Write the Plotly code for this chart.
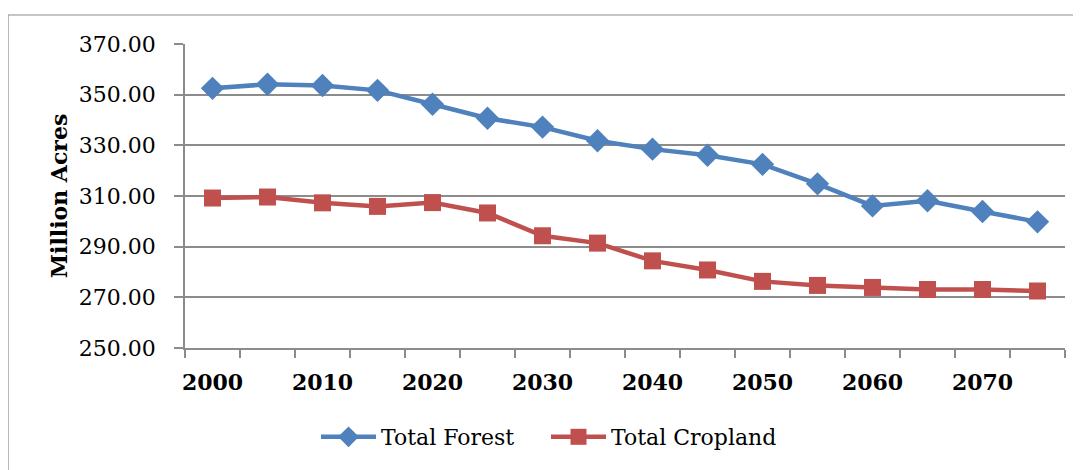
import plotly.graph_objects as go

years = [2000, 2005, 2010, 2015, 2020, 2025, 2030, 2035, 2040, 2045, 2050, 2055, 2060, 2065, 2070, 2075]
total_forest = [352.5, 354.1, 353.6, 351.7, 346.2, 340.7, 337.2, 331.8, 328.5, 326.1, 322.5, 314.8, 306.1, 308.1, 303.9, 299.8]
total_cropland = [309.2, 309.6, 307.3, 305.9, 307.4, 303.3, 294.3, 291.4, 284.4, 280.8, 276.3, 274.7, 273.9, 273.1, 273.1, 272.5]
x_tick_labels = ["2000", "2010", "2020", "2030", "2040", "2050", "2060", "2070"]
y_ticks = [250, 270, 290, 310, 330, 350, 370]

BLUE = "#4F81BD"
RED = "#C0504D"
GRID = "#8C8C8C"
FONT = "DejaVu Serif"

fig = go.Figure()
fig.add_trace(go.Scatter(
    x=years, y=total_forest, name="Total Forest", mode="lines+markers",
    line=dict(color=BLUE, width=4.5),
    marker=dict(symbol="diamond", size=18, color=BLUE),
))
fig.add_trace(go.Scatter(
    x=years, y=total_cropland, name="Total Cropland", mode="lines+markers",
    line=dict(color=RED, width=4.5),
    marker=dict(symbol="square", size=17, color=RED),
))

OFF = 8  # page body margin
W, H = 1081 - OFF, 470 - OFF
L, R, T, B = 185 - OFF, 16, 44 - OFF, 470 - 348
pw = W - L - R
ph = H - T - B

def px(xp):
    return (xp - OFF - L) / pw

def py(yp):
    return (H - B - (yp - OFF)) / ph

fig.add_shape(type="rect", xref="paper", yref="paper",
              x0=px(8), x1=px(1100), y0=py(15), y1=py(520),
              line=dict(color=GRID, width=1.2), fillcolor="rgba(0,0,0,0)", layer="below")

fig.update_layout(
    width=W, height=H,
    margin=dict(l=L, r=R, t=T, b=B),
    paper_bgcolor="white", plot_bgcolor="white",
    font=dict(family=FONT, color="black"),
    showlegend=True,
    legend=dict(orientation="h", x=px(316), xanchor="left", y=py(437), yanchor="middle",
                font=dict(family=FONT, size=22, color="black"), itemwidth=55,
                traceorder="normal", entrywidthmode="pixels", entrywidth=160),
)

fig.update_xaxes(
    range=[1997.5, 2077.5],
    tickmode="array",
    tickvals=[int(v) for v in x_tick_labels],
    ticktext=x_tick_labels,
    ticks="",
    showgrid=False,
    showline=True, linecolor=GRID, linewidth=1.5,
    tickfont=dict(family=FONT, size=22, color="black", weight="bold"),
    ticklabelstandoff=14,
    minor=dict(tickmode="array", tickvals=[1997.5 + 5 * i for i in range(17)],
               ticks="outside", ticklen=8, tickcolor=GRID, tickwidth=1.5, showgrid=False),
    zeroline=False,
)

fig.update_yaxes(
    range=[250, 370],
    tickmode="array",
    tickvals=y_ticks,
    ticktext=[f"{v:.2f}" for v in y_ticks],
    ticks="outside", ticklen=9, tickcolor=GRID, tickwidth=1.5,
    showgrid=True, gridcolor=GRID, gridwidth=1.5,
    showline=True, linecolor=GRID, linewidth=1.5,
    tickfont=dict(family=FONT, size=22, color="black"),
    ticklabelstandoff=14,
    title=dict(text="Million Acres", font=dict(family=FONT, size=22, color="black", weight="bold"), standoff=5),
    zeroline=False,
)

fig.write_html("out.html")
